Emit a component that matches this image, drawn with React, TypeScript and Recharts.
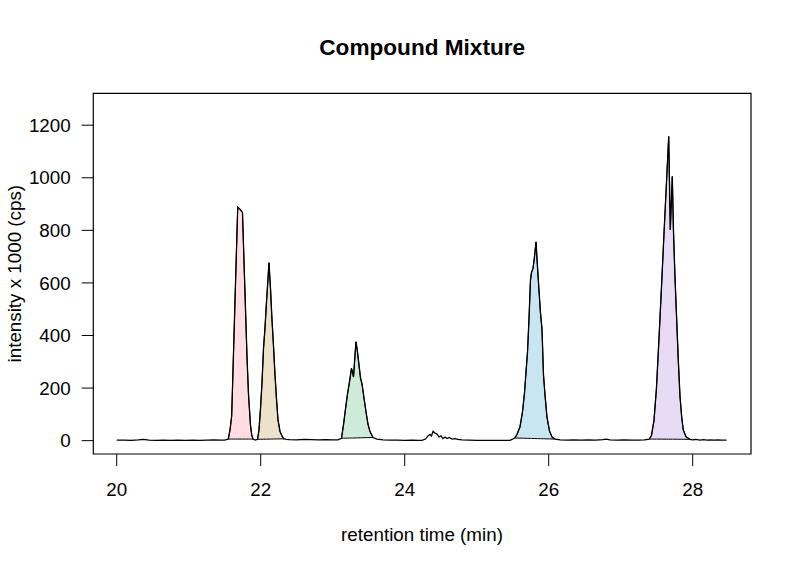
import { ComposedChart, Line, Area, XAxis, YAxis, ReferenceArea } from 'recharts';

// baseline stretches between the peaks (retention time in min, intensity x 1000 cps)
const baseRt = [
  20.0, 20.1, 20.2, 20.3, 20.37, 20.45, 20.55, 20.65, 20.75, 20.85, 20.95, 21.05, 21.15, 21.25, 21.35, 21.45, 21.5,
  21.925,
  22.36, 22.4, 22.5, 22.6, 22.7, 22.8, 22.9, 23.0, 23.074,
  23.615, 23.7, 23.8, 23.9, 24.0, 24.1, 24.2,
  24.24, 24.289, 24.324, 24.351, 24.372, 24.393, 24.421, 24.449, 24.476, 24.504, 24.532, 24.56, 24.587, 24.622,
  24.657, 24.699, 24.74, 24.796,
  24.9, 25.0, 25.1, 25.2, 25.3, 25.4, 25.463,
  26.16, 26.25, 26.35, 26.45, 26.55, 26.65, 26.75, 26.8, 26.85, 26.95, 27.05, 27.15, 27.25, 27.33,
  28.0, 28.05, 28.1, 28.15, 28.2, 28.25, 28.3, 28.35, 28.4, 28.47,
];
const baseInt = [
  2, 2, 1, 3, 5, 2, 1, 2, 1, 2, 1, 2, 1, 2, 3, 2, 2,
  2,
  5, 4, 3, 5, 4, 3, 4, 3, 3,
  6, 3, 2, 2, 1, 2, 1,
  1, 6, 18, 24, 18, 35, 29, 25, 14, 18, 8, 14, 8, 12,
  6, 8, 5, 3,
  2, 1, 1, 1, 1, 1, 1,
  3, 2, 3, 2, 3, 2, 4, 6, 3, 2, 3, 2, 2, 3,
  3, 5, 2, 4, 2, 3, 2, 3, 2, 2,
];

// peaks (first and last point close each shaded polygon)
const pinkRt = [21.55, 21.574, 21.597, 21.622, 21.65, 21.681, 21.712, 21.747, 21.768, 21.789, 21.81, 21.831, 21.858, 21.875, 21.893];
const pinkInt = [6, 41, 94, 330, 596, 888, 880, 868, 684, 501, 318, 174, 60, 22, 6];

const tanRt = [21.956, 21.976, 21.997, 22.018, 22.039, 22.06, 22.08, 22.101, 22.115, 22.136, 22.157, 22.178, 22.199, 22.219, 22.24, 22.268, 22.303, 22.324];
const tanInt = [5, 40, 120, 220, 350, 430, 525, 615, 677, 580, 460, 360, 250, 160, 80, 35, 14, 7];

const greenRt = [23.122, 23.15, 23.178, 23.206, 23.233, 23.261, 23.275, 23.289, 23.31, 23.324, 23.344, 23.365, 23.386, 23.407, 23.435, 23.463, 23.49, 23.518, 23.56];
const greenInt = [9, 60, 121, 178, 223, 275, 261, 242, 326, 376, 338, 288, 239, 216, 162, 109, 63, 35, 12];

const blueRt = [25.53, 25.56, 25.601, 25.636, 25.664, 25.685, 25.706, 25.726, 25.747, 25.761, 25.782, 25.803, 25.824, 25.844, 25.865, 25.886, 25.907, 25.928, 25.949, 25.976, 26.011, 26.046, 26.09];
const blueInt = [10, 24, 52, 109, 181, 261, 338, 459, 610, 640, 655, 700, 756, 664, 574, 486, 425, 250, 174, 90, 37, 14, 6];

const purpleRt = [27.397, 27.428, 27.463, 27.497, 27.532, 27.567, 27.601, 27.636, 27.667, 27.689, 27.717, 27.733, 27.754, 27.778, 27.8, 27.824, 27.847, 27.869, 27.907, 27.962];
const purpleInt = [6, 20, 78, 200, 388, 586, 784, 982, 1157, 802, 1005, 800, 624, 459, 307, 168, 91, 41, 15, 5];

const xTicks = [20, 22, 24, 26, 28];
const yTicks = [0, 200, 400, 600, 800, 1000, 1200];

const peaks = [
  { rt: pinkRt, y: pinkInt, fill: '#ffdde3' },
  { rt: tanRt, y: tanInt, fill: '#ebe2c9' },
  { rt: greenRt, y: greenInt, fill: '#cdebd8' },
  { rt: blueRt, y: blueInt, fill: '#c8e6f1' },
  { rt: purpleRt, y: purpleInt, fill: '#e7dbf5' },
];

type Row = { rt: number; y: number; [k: string]: any };

const rows: Row[] = baseRt.map((rt, i) => ({ rt, y: baseInt[i] }));
peaks.forEach((p, k) => {
  const n = p.rt.length;
  const r0 = p.rt[0], r1 = p.rt[n - 1];
  const y0 = p.y[0], y1 = p.y[n - 1];
  p.rt.forEach((rt, i) => {
    // polygon closes with a straight edge from last point back to first
    const base = y0 + ((y1 - y0) * (rt - r0)) / (r1 - r0);
    rows.push({ rt, y: p.y[i], ['p' + k]: [base, p.y[i]] });
  });
});
rows.sort((a, b) => a.rt - b.rt);

const FONT = '"Liberation Sans", Arial, Helvetica, sans-serif';

const Labels = () => (
  <g fontFamily={FONT} fill="#000">
    <text x={422.2} y={55} textAnchor="middle" fontSize={22.6} fontWeight="bold">
      Compound Mixture
    </text>
    <text x={422} y={541} textAnchor="middle" fontSize={18.8}>
      retention time (min)
    </text>
    <text x={21} y={273.7} textAnchor="middle" fontSize={18.8} transform="rotate(-90, 21, 273.7)">
      intensity x 1000 (cps)
    </text>
  </g>
);

export default function App() {
  return (
    <div style={{ position: 'absolute', left: 0, top: 0, width: 799, height: 571, background: '#fff' }}>
      <ComposedChart
        width={799}
        height={571}
        data={rows}
        margin={{ top: 93.3, right: 48, bottom: 57, left: 13.3 }}
        style={{ fontFamily: FONT }}
      >
        <XAxis
          dataKey="rt"
          type="number"
          domain={[19.675, 28.81]}
          ticks={xTicks}
          interval={0}
          allowDataOverflow
          height={60}
          axisLine={false}
          tickLine={{ stroke: '#000' }}
          tickSize={12}
          tickMargin={16.7}
          tick={{ fill: '#000', fontSize: 18.8, fontFamily: FONT }}
        />
        <YAxis
          type="number"
          domain={[-50.8, 1321.3]}
          ticks={yTicks}
          interval={0}
          allowDataOverflow
          width={80}
          axisLine={false}
          tickLine={{ stroke: '#000' }}
          tickSize={11.6}
          tickMargin={11}
          tick={{ fill: '#000', fontSize: 18.8, fontFamily: FONT }}
        />
        {peaks.map((p, k) => (
          <Area
            key={k}
            dataKey={'p' + k}
            type="linear"
            fill={p.fill}
            fillOpacity={1}
            stroke="#000"
            strokeWidth={1}
            dot={false}
            activeDot={false}
            isAnimationActive={false}
          />
        ))}
        <Line
          dataKey="y"
          type="linear"
          stroke="#000"
          strokeWidth={1.3}
          dot={false}
          activeDot={false}
          isAnimationActive={false}
        />
        <ReferenceArea
          x1={19.675}
          x2={28.81}
          y1={-50.8}
          y2={1321.3}
          fill="none"
          stroke="#000"
          strokeWidth={1.2}
          label={() => <Labels />}
        />
      </ComposedChart>
    </div>
  );
}
